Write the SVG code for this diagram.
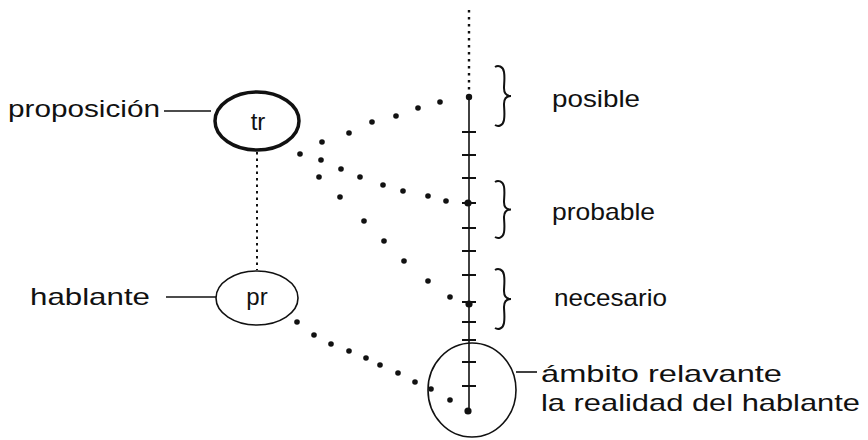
<svg xmlns="http://www.w3.org/2000/svg" width="868" height="440" viewBox="0 0 868 440">
<style>
text{font-family:"Liberation Sans",Arial,sans-serif;font-size:24px;fill:#111}
.c{fill:none;stroke:#111}
.ln{stroke:#111;stroke-width:1.6;fill:none}
.d{fill:#111}
.br{fill:none;stroke:#111;stroke-width:2}
</style>
<defs>
<path id="brace" d="M0,1 C3,-1 8,0 9,6 C10,12 9,18 9,22 C9,27 11,30 16,30 C11,30 9,33 9,38 C9,42 10,48 9,54 C8,60 3,61 0,59" />
</defs>
<g id="axis">
<line x1="469" y1="10" x2="469" y2="92" stroke="#111" stroke-width="2.4" stroke-dasharray="2.5 4.5"/>
<line class="ln" x1="469" y1="97" x2="469" y2="411" stroke-width="2.4"/>
<g stroke="#111" stroke-width="2">
<line x1="462" y1="132" x2="476" y2="132"/>
<line x1="462" y1="155" x2="476" y2="155"/>
<line x1="462" y1="178" x2="476" y2="178"/>
<line x1="462" y1="203" x2="476" y2="203"/>
<line x1="462" y1="228" x2="476" y2="228"/>
<line x1="462" y1="251" x2="476" y2="251"/>
<line x1="462" y1="275" x2="476" y2="275"/>
<line x1="462" y1="302" x2="476" y2="302"/>
<line x1="462" y1="322" x2="476" y2="322"/>
<line x1="462" y1="340" x2="476" y2="340"/>
<line x1="462" y1="362" x2="476" y2="362"/>
<line x1="462" y1="386" x2="476" y2="386"/>
</g>
</g>
<g id="braces">
<use href="#brace" class="br" transform="translate(495,66)"/>
<use href="#brace" class="br" transform="translate(495,181) scale(1,0.95)"/>
<use href="#brace" class="br" transform="translate(495,269)"/>
</g>
<g id="posible"><text x="552" y="107" textLength="88" lengthAdjust="spacingAndGlyphs">posible</text></g>
<g id="probable"><text x="552" y="220" textLength="103" lengthAdjust="spacingAndGlyphs">probable</text></g>
<g id="necesario"><text x="554" y="306" textLength="113" lengthAdjust="spacingAndGlyphs">necesario</text></g>
<g id="tr">
<ellipse class="c" cx="257" cy="121" rx="42" ry="29" stroke-width="3.5"/>
<text x="258" y="130" text-anchor="middle">tr</text>
</g>
<g id="proposicion">
<text x="8" y="117" textLength="152" lengthAdjust="spacingAndGlyphs">proposición</text>
<line class="ln" x1="164" y1="111" x2="211" y2="111"/>
</g>
<g id="pr">
<ellipse class="c" cx="257" cy="298" rx="41" ry="27" stroke-width="1.6"/>
<text x="257" y="305" text-anchor="middle">pr</text>
</g>
<g id="hablante">
<text x="30" y="305" textLength="120" lengthAdjust="spacingAndGlyphs">hablante</text>
<line class="ln" x1="166" y1="297" x2="216" y2="297"/>
</g>
<g id="ambito">
<ellipse class="c" cx="472" cy="390" rx="44" ry="47" stroke-width="1.6"/>
<line class="ln" x1="516" y1="372" x2="537" y2="372"/>
<text x="541" y="382" textLength="241" lengthAdjust="spacingAndGlyphs">ámbito relavante</text>
<text x="541" y="411" textLength="319" lengthAdjust="spacingAndGlyphs">la realidad del hablante</text>
</g>
<g id="connectors">
<line x1="257" y1="152" x2="257" y2="270" stroke="#111" stroke-width="2" stroke-dasharray="2.5 4"/>
<g class="d">
<circle cx="300" cy="154" r="2.8"/><circle cx="322" cy="142" r="2.8"/><circle cx="349" cy="133" r="2.8"/><circle cx="372" cy="122" r="2.8"/><circle cx="396" cy="116" r="2.8"/><circle cx="418" cy="108" r="2.8"/><circle cx="440" cy="102" r="2.8"/><circle cx="469" cy="97" r="3.2"/>
<circle cx="321" cy="160" r="2.8"/><circle cx="341" cy="169" r="2.8"/><circle cx="360" cy="177" r="2.8"/><circle cx="383" cy="185" r="2.8"/><circle cx="403" cy="191" r="2.8"/><circle cx="428" cy="196" r="2.8"/><circle cx="446" cy="201" r="2.8"/><circle cx="468" cy="203" r="3.6"/>
<circle cx="319" cy="177" r="2.8"/><circle cx="340" cy="197" r="2.8"/><circle cx="364" cy="221" r="2.8"/><circle cx="384" cy="241" r="2.8"/><circle cx="404" cy="261" r="2.8"/><circle cx="428" cy="281" r="2.8"/><circle cx="450" cy="297" r="2.8"/><circle cx="469" cy="304" r="3.6"/>
<circle cx="297" cy="322" r="2.8"/><circle cx="314" cy="335" r="2.8"/><circle cx="331" cy="344" r="2.8"/><circle cx="349" cy="351" r="2.8"/><circle cx="366" cy="358" r="2.8"/><circle cx="380" cy="365" r="2.8"/><circle cx="398" cy="373" r="2.8"/><circle cx="415" cy="382" r="2.8"/><circle cx="431" cy="389" r="2.8"/><circle cx="450" cy="400" r="2.8"/><circle cx="468" cy="411" r="3.6"/>
</g>
</g>
</svg>
